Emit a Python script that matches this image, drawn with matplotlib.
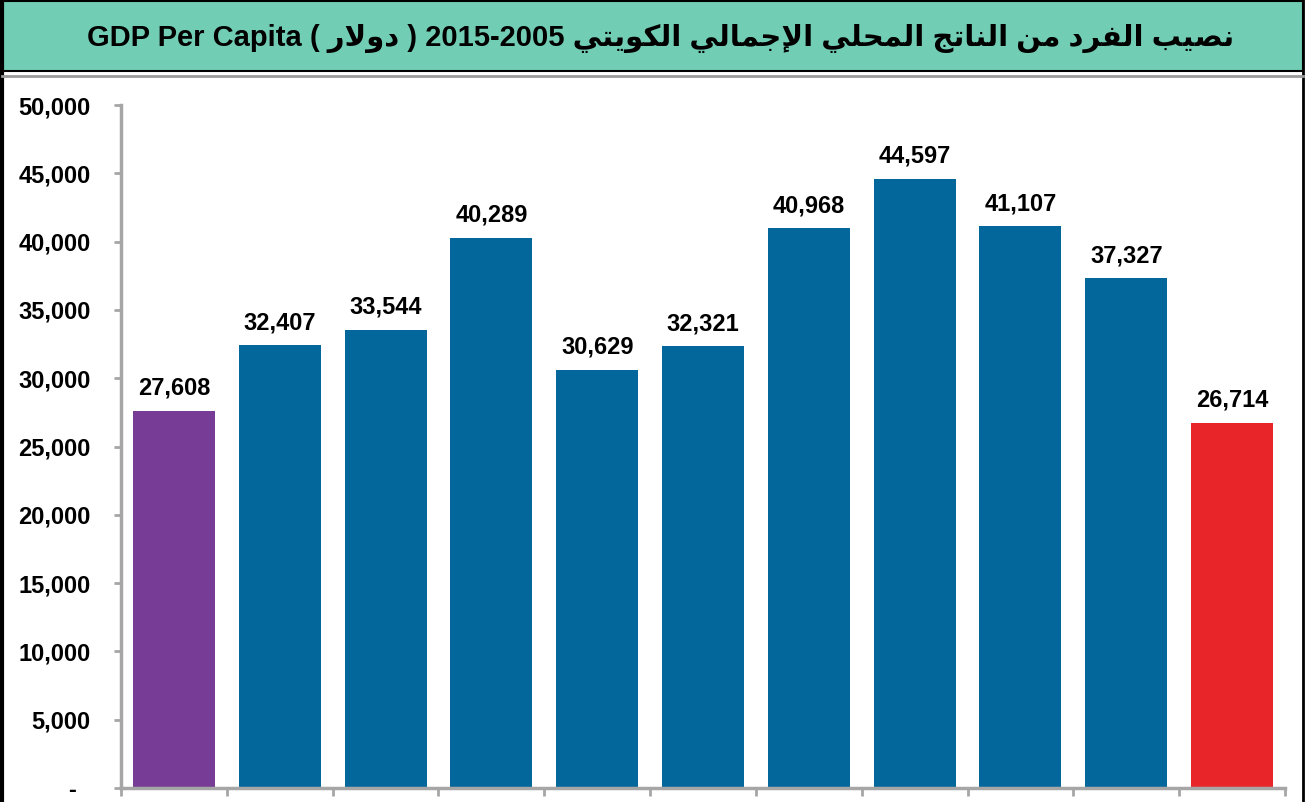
import matplotlib.pyplot as plt
from matplotlib.patches import Rectangle
from matplotlib.lines import Line2D

# data
years = ['2005', '2006', '2007', '2008', '2009', '2010', '2011', '2012', '2013', '2014', '2015']
gdp_per_capita = [27608, 32407, 33544, 40289, 30629, 32321, 40968, 44597, 41107, 37327, 26714]
bar_colors = ['#763C96'] + ['#04679C'] * 9 + ['#E8262A']
yticks = [0, 5000, 10000, 15000, 20000, 25000, 30000, 35000, 40000, 45000, 50000]
ytick_labels = ['-  ', '5,000', '10,000', '15,000', '20,000', '25,000', '30,000',
                '35,000', '40,000', '45,000', '50,000']

title_words_ar = ['نصيب', 'الفرد', 'من', 'الناتج', 'المحلي', 'الإجمالي', 'الكويتي']
unit_ar = 'دولار'
title_en = 'GDP Per Capita'
title_years = '2015-2005'

# arabic presentation forms: isolated, final, initial, medial
FORMS = {
    'ا': ('\uFE8D', '\uFE8E', None, None),
    'إ': ('\uFE87', '\uFE88', None, None),
    'ب': ('\uFE8F', '\uFE90', '\uFE91', '\uFE92'),
    'ت': ('\uFE95', '\uFE96', '\uFE97', '\uFE98'),
    'ج': ('\uFE9D', '\uFE9E', '\uFE9F', '\uFEA0'),
    'ح': ('\uFEA1', '\uFEA2', '\uFEA3', '\uFEA4'),
    'د': ('\uFEA9', '\uFEAA', None, None),
    'ر': ('\uFEAD', '\uFEAE', None, None),
    'ص': ('\uFEB9', '\uFEBA', '\uFEBB', '\uFEBC'),
    'ف': ('\uFED1', '\uFED2', '\uFED3', '\uFED4'),
    'ك': ('\uFED9', '\uFEDA', '\uFEDB', '\uFEDC'),
    'ل': ('\uFEDD', '\uFEDE', '\uFEDF', '\uFEE0'),
    'م': ('\uFEE1', '\uFEE2', '\uFEE3', '\uFEE4'),
    'ن': ('\uFEE5', '\uFEE6', '\uFEE7', '\uFEE8'),
    'و': ('\uFEED', '\uFEEE', None, None),
    'ي': ('\uFEF1', '\uFEF2', '\uFEF3', '\uFEF4'),
    'لا': ('\uFEFB', '\uFEFC', None, None),
    'لإ': ('\uFEF9', '\uFEFA', None, None),
}


def shape(word):
    # split into letters, merging lam-alef ligatures
    letters = []
    i = 0
    while i < len(word):
        if word[i] == 'ل' and i + 1 < len(word) and word[i + 1] in 'اإ':
            letters.append(word[i:i + 2])
            i += 2
        else:
            letters.append(word[i])
            i += 1
    out = []
    for k, ch in enumerate(letters):
        f = FORMS[ch]
        prev_joins = k > 0 and FORMS[letters[k - 1]][2] is not None
        next_joins = k < len(letters) - 1 and f[2] is not None
        if prev_joins and next_joins:
            g = f[3]
        elif prev_joins:
            g = f[1]
        elif next_joins:
            g = f[2]
        else:
            g = f[0]
        out.append(g)
    return ''.join(reversed(out))


title = (title_en + ' ( ' + shape(unit_ar) + ' ) ' + title_years + ' '
         + ' '.join(shape(w) for w in reversed(title_words_ar)))

fonts = ['Liberation Sans', 'DejaVu Sans']
plt.rcParams['font.family'] = fonts

W, H = 1307, 802
fig = plt.figure(figsize=(W / 100, H / 100), dpi=100)

# title banner and frame
fig.patches.append(Rectangle((2 / W, 1 - 71 / H), 1301 / W, 70 / H, transform=fig.transFigure,
                             facecolor='#72CDB5', edgecolor='black', linewidth=1.5))
fig.add_artist(Line2D([2 / W, 2 / W], [0, 1], transform=fig.transFigure, color='black', linewidth=3))
fig.add_artist(Line2D([1303 / W, 1303 / W], [0, 1], transform=fig.transFigure,
                      color='black', linewidth=2))
fig.add_artist(Line2D([2 / W, 1303 / W], [1 - 76 / H, 1 - 76 / H], transform=fig.transFigure,
                      color='#9A9A9A', linewidth=2))
fig.text(661 / W, 1 - 38 / H, title, ha='center', va='center', fontsize=21,
         fontweight='bold', family=fonts, color='black')

ax = fig.add_axes([121 / W, 1 - 788 / H, (1285 - 121) / W, (788 - 105) / H])
x = list(range(len(years)))
bars = ax.bar(x, gdp_per_capita, width=0.775, color=bar_colors)
for xi, v in zip(x, gdp_per_capita):
    ax.annotate(f'{v:,}', (xi, v), xytext=(0, 8), textcoords='offset points',
                ha='center', va='bottom', fontsize=17, fontweight='bold')

ax.set_xlim(-0.5, len(years) - 0.5)
ax.set_ylim(0, 50000)
ax.set_yticks(yticks)
ax.set_yticklabels(ytick_labels, fontsize=17, fontweight='bold')
ax.set_xticks([i - 0.5 for i in range(len(years) + 1)])
ax.set_xticklabels([])
ax.tick_params(axis='y', direction='out', length=5, width=2, color='#A6A6A6', pad=17)
ax.tick_params(axis='x', direction='out', length=6, width=2, color='#A6A6A6')
for s in ['top', 'right']:
    ax.spines[s].set_visible(False)
for s in ['left', 'bottom']:
    ax.spines[s].set_color('#A6A6A6')
    ax.spines[s].set_linewidth(2.5)

fig.savefig('out.png', dpi=100)
